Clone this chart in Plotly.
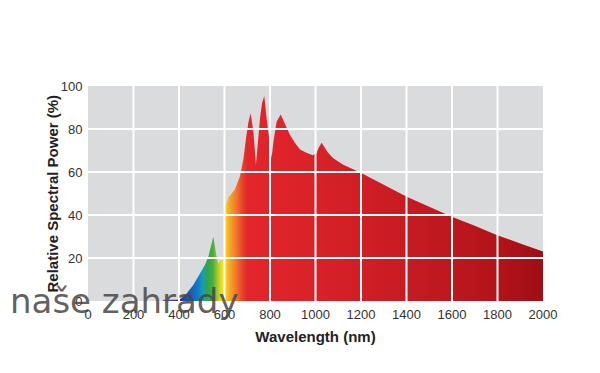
import plotly.graph_objects as go

# ---- data ----
wavelength = [330, 400, 407, 430, 463, 500, 514, 529, 539, 551, 558, 565, 573,
              582, 592, 598, 602, 607, 617, 632, 646, 668, 683, 695, 705, 715,
              727, 734, 738, 746, 756, 765, 775, 785, 800, 807, 815, 829, 847,
              866, 888, 910, 932, 960, 988, 1005, 1015, 1027, 1040, 1055, 1078,
              1120, 1203, 1300, 1401, 1500, 1599, 1700, 1796, 1900, 2000]
power = [0.6, 0.6, 1.0, 3.0, 7.4, 14.4, 16.7, 20.6, 25.3, 29.9, 25.3, 20.6, 17.5,
         19.0, 19.0, 22.0, 38.0, 45.0, 48.0, 50.0, 52.0, 58.0, 66.0, 76.0, 83.0, 87.3,
         78.8, 69.4, 63.3, 72.6, 85.0, 92.0, 95.3, 85.0, 72.6, 66.4, 74.0, 83.4, 86.8,
         82.6, 77.2, 73.5, 70.5, 69.0, 67.8, 69.0, 71.5, 73.6, 71.5, 69.0, 66.4,
         63.5, 59.4, 54.0, 48.5, 43.8, 39.2, 35.0, 30.7, 26.8, 23.0]

# spectrum colour stops (wavelength, colour)
grad_wl = [330, 400, 440, 480, 505, 525, 550, 570, 588, 605, 625, 650, 675, 700,
           1000, 1400, 1800, 2000]
grad_col = ['#8a4a9e', '#3b2d8f', '#1f4fb0', '#1177c9', '#14a0b0', '#2fa44a',
            '#4cae3c', '#a8c832', '#f0e21c', '#f8d01e', '#f5a328', '#f07c2c',
            '#e8482b', '#e3262a', '#d92128', '#c71b22', '#b3131a', '#a00d14']

x_ticks = [0, 200, 400, 600, 800, 1000, 1200, 1400, 1600, 1800, 2000]
y_ticks = [0, 20, 40, 60, 80, 100]

x_title = "Wavelength (nm)"
y_title = "Relative Spectral Power (%)"
watermark = "naše zahrady"

# ---- figure ----
g0, g1 = grad_wl[0], grad_wl[-1]
colorscale = [[(w - g0) / (g1 - g0), c] for w, c in zip(grad_wl, grad_col)]

fig = go.Figure()
fig.add_trace(go.Scatter(
    x=wavelength, y=power, mode="lines", line=dict(width=0, color="#d92128"),
    fill="tozeroy",
    fillgradient=dict(type="horizontal", colorscale=colorscale, start=g0, stop=g1),
    hoverinfo="skip", showlegend=False,
))

# white gridlines drawn above the spectrum
shapes = []
for xv in x_ticks[1:-1]:
    shapes.append(dict(type="line", xref="x", yref="y", x0=xv, x1=xv,
                       y0=y_ticks[0], y1=y_ticks[-1], layer="above",
                       line=dict(color="white", width=2)))
for yv in y_ticks[1:-1]:
    shapes.append(dict(type="line", xref="x", yref="y", x0=x_ticks[0], x1=x_ticks[-1],
                       y0=yv, y1=yv, layer="above",
                       line=dict(color="white", width=2)))

tick_font = dict(family="Liberation Sans, Arial, sans-serif", size=13, color="#333333")
title_font = dict(family="Liberation Sans, Arial, sans-serif", size=15, color="#222222")

# the page body adds an 8px offset, so the figure is 592x365 with margins shifted
fig.update_layout(
    width=592, height=365,
    margin=dict(l=80, r=57, t=78, b=72),
    paper_bgcolor="white", plot_bgcolor="#dadbdd",
    shapes=shapes,
    xaxis=dict(range=[x_ticks[0], x_ticks[-1]], tickvals=x_ticks,
               ticktext=[str(v) for v in x_ticks], showgrid=False, zeroline=False,
               ticks="outside", ticklen=1, tickcolor="rgba(0,0,0,0)",
               tickfont=tick_font, fixedrange=True, automargin=False,
               title=dict(text="<b>" + x_title + "</b>", font=title_font, standoff=10)),
    yaxis=dict(range=[y_ticks[0], y_ticks[-1]], tickvals=y_ticks,
               ticktext=[str(v) for v in y_ticks], showgrid=False, zeroline=False,
               ticks="outside", ticklen=2, tickcolor="rgba(0,0,0,0)",
               tickfont=tick_font, fixedrange=True, automargin=False),
    annotations=[
        dict(text="<b>" + y_title + "</b>", xref="paper", yref="paper",
             x=(52 - 88) / 455, y=0.5, xanchor="center", yanchor="middle",
             textangle=-90, showarrow=False, font=title_font),
        dict(text=watermark, xref="paper", yref="paper",
             x=(8 - 88) / 455, y=0.0, xanchor="left", yanchor="middle",
             showarrow=False,
             font=dict(family="DejaVu Sans, sans-serif", size=34,
                       color="rgba(70,70,70,0.85)")),
    ],
)

fig.write_html("out.html")
